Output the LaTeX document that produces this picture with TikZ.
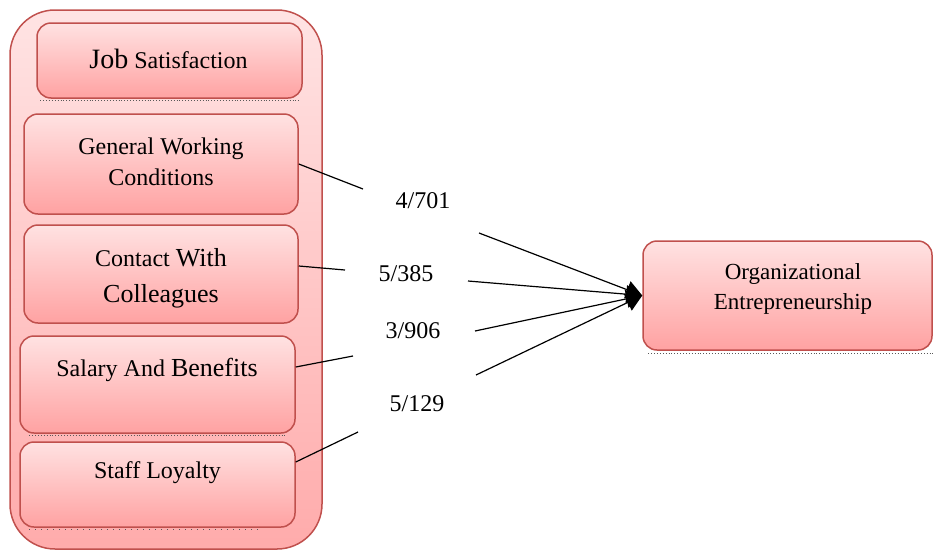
\documentclass[tikz,border=0pt]{standalone}
\usepackage{fontspec}
\setmainfont{Liberation Serif}
\usetikzlibrary{positioning, arrows.meta}

\definecolor{boxline}{RGB}{192,80,77}
\definecolor{boxtop}{RGB}{255,226,226}
\definecolor{boxbottom}{RGB}{255,162,162}

\tikzset{
  factor/.style={draw=boxline, line width=1.5pt, rounded corners=14pt,
    top color=boxtop, bottom color=boxbottom, inner sep=0pt},
  factortext/.style={align=center, inner sep=0pt, font=\fontsize{24}{31}\selectfont},
  weight/.style={inner sep=0pt, font=\fontsize{24}{29}\selectfont},
  link/.style={line width=1.2pt},
  shadowline/.style={dotted, line width=0.9pt, black!65}
}

\begin{document}
\begin{tikzpicture}[x=1pt, y=-1pt]
    \useasboundingbox (0,0) rectangle (933,552);

    % outer frame
    \node[factor, rounded corners=45pt, minimum width=312pt, minimum height=539pt,
          top color=boxtop!95!white, bottom color=boxbottom!90!white] (frame) at (166,279.5) {};

    \node[factor, minimum width=265pt, minimum height=75pt] (js) at (169.5,60.5) {};
    \node[factor, minimum width=274pt, minimum height=100pt] (gwc) at (161,164) {};
    \node[factor, minimum width=274pt, minimum height=98pt] (cwc) at (161,274) {};
    \node[factor, minimum width=275pt, minimum height=97pt] (sab) at (157.5,384.5) {};
    \node[factor, minimum width=275pt, minimum height=85pt] (sl) at (157.5,484.5) {};
    \node[factor, minimum width=289pt, minimum height=109pt] (oe) at (787.5,295.5) {};

    \draw[shadowline] ([xshift=4pt, yshift=-2pt]js.south west) -- ([xshift=-2pt, yshift=-2pt]js.south east);
    \draw[shadowline] ([xshift=10pt, yshift=-2pt]sab.south west) -- ([xshift=-10pt, yshift=-2pt]sab.south east);
    \draw[shadowline, dash pattern=on 1pt off 5pt] ([xshift=10pt, yshift=-2pt]sl.south west) -- ([xshift=-35pt, yshift=-2pt]sl.south east);
    \draw[shadowline] ([xshift=6pt, yshift=-3pt]oe.south west) -- ([yshift=-3pt]oe.south east);

    \node[factortext] (jst) at (168.5,58.5) {{\fontsize{28}{34}\selectfont Job} Satisfaction};
    \node[factortext] (gwct) at (161,161.5) {General Working\\Conditions};
    \node[factortext] (cwct) at (161,278) {Contact {\fontsize{26}{31}\selectfont With}\\[5pt]{\fontsize{26}{31}\selectfont Colleagues}};
    \node[factortext] (sabt) at (157,370) {Salary And {\fontsize{26}{31}\selectfont Benefits}};
    \node[factortext] (slt) at (157.5,472.5) {Staff Loyalty};
    \node[factortext, font=\fontsize{23}{30}\selectfont] (oet) at (793,289) {Organizational\\Entrepreneurship};

    \node[weight] (w1) at (423,201) {4/701};
    \node[weight] (w2) at (406,274) {5/385};
    \node[weight] (w3) at (413,331) {3/906};
    \node[weight] (w4) at (417,404) {5/129};

    \coordinate (l1) at (363,189);
    \coordinate (l2) at (345,270);
    \coordinate (l3) at (353,356);
    \coordinate (l4) at (358,432);
    \coordinate (r1) at (479,233);
    \coordinate (r2) at (468,281);
    \coordinate (r3) at (475,331);
    \coordinate (r4) at (476,375);

    \draw[link] (gwc.east) -- (l1);
    \draw[link] ([yshift=8pt]cwc.east) -- (l2);
    \draw[link] ([yshift=17.5pt]sab.east) -- (l3);
    \draw[link] ([yshift=22.5pt]sl.east) -- (l4);

    \foreach \r in {r1,r2,r3,r4}
        \draw[link, -{Triangle[length=16pt, width=18pt]}] (\r) -- (oe.west);
\end{tikzpicture}
\end{document}
